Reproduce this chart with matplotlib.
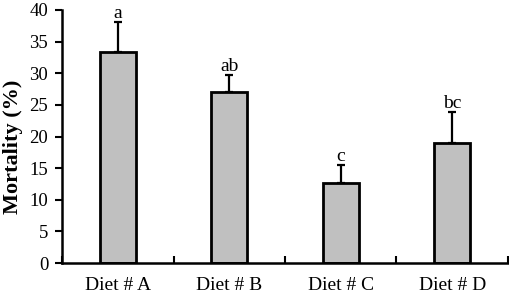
import matplotlib

matplotlib.use("Agg")
import matplotlib.pyplot as plt
import numpy as np

# データ
diets = ["Diet # A", "Diet # B", "Diet # C", "Diet # D"]
mortality = [33.3, 27.0, 12.7, 19.0]
mortality_err = [4.8, 2.8, 2.8, 4.9]
letters = ["a", "ab", "c", "bc"]

plt.rcParams["font.family"] = ["Liberation Serif", "DejaVu Serif"]

fig = plt.figure(figsize=(5.1, 2.94), dpi=100)
ax = fig.add_axes([0.1216, 0.1054, 0.8744, 0.8606])

x = np.arange(len(diets))
ax.bar(
    x,
    mortality,
    width=0.32,
    color="#c0c0c0",
    edgecolor="black",
    linewidth=2,
    zorder=2,
)
ax.errorbar(
    x,
    mortality,
    yerr=[np.zeros(len(x)), mortality_err],
    fmt="none",
    ecolor="black",
    elinewidth=1.6,
    capsize=2.9,
    capthick=1.6,
    zorder=1,
)

for xi, m, e, lab in zip(x, mortality, mortality_err, letters):
    ax.annotate(
        lab,
        (xi, m + e),
        xytext=(0, 0),
        textcoords="offset points",
        ha="center",
        va="bottom",
        fontsize=14,
    )

ax.set_xlim(-0.5, 3.5)
ax.set_ylim(0, 40)
ax.set_yticks(range(0, 41, 5))
ax.set_xticks(x)
ax.set_xticklabels(diets)
ax.set_xticks(np.arange(-0.5, 3.6, 1.0), minor=True)

ax.tick_params(axis="y", direction="out", length=5, width=1.5, labelsize=13.5, pad=5)
ax.tick_params(axis="x", which="major", length=0, labelsize=14, pad=10)
ax.tick_params(axis="x", which="minor", direction="in", length=5, width=1.5)

for side in ["top", "right"]:
    ax.spines[side].set_visible(False)
for side in ["left", "bottom"]:
    ax.spines[side].set_linewidth(1.8)

# 縦軸ラベル
fig.text(
    13.5 / 510,
    1 - 147 / 294,
    "Mortality (%)",
    rotation=90,
    ha="center",
    va="center",
    fontsize=16,
    fontweight="bold",
)

fig.savefig("out.png", dpi=100)
